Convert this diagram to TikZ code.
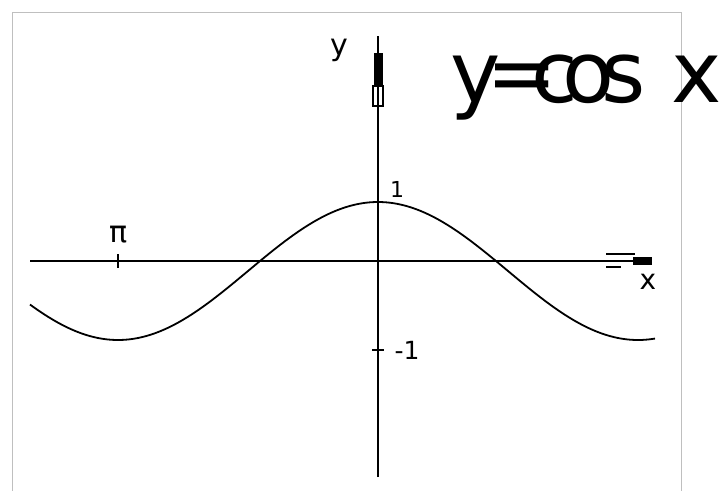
\documentclass[tikz,border=0pt]{standalone}
\usepackage{fontspec}
\setmainfont{DejaVu Sans}
\begin{document}
\begin{tikzpicture}[x=1pt,y=-1pt,
  axis/.style={line width=2.4pt,black},
  curve/.style={line width=1.8pt,black},
  lbl/.style={inner sep=0pt,font=\fontsize{22}{22}\selectfont},
  frame/.style={line width=1pt,draw=black!25}]
\useasboundingbox (0,0) rectangle (725,490);
\fill[white] (0,0) rectangle (725,490);
% frame
\draw[frame] (12,492) -- (12,12) -- (681,12) -- (681,492);
% axes
\coordinate (xl) at (30,261);
\coordinate (xr) at (652,261);
\coordinate (yt) at (378,36);
\coordinate (yb) at (378,477);
\draw[axis] (xl) -- (xr);
\draw[axis] (yb) -- (yt);
% y arrow decoration
\fill[black] (374,53) rectangle (383,85);
\draw[line width=1.8pt] (373,86) rectangle (383,106);
% x arrow decoration
\fill[black] (633,257) rectangle (652,265);
\draw[line width=2pt] (606,254) -- (635,254);
\draw[line width=2pt] (606,267) -- (621,267);
% ticks
\draw[axis] (118,254) -- (118,268);
\draw[axis] (372,350) -- (384,350);
% curve
\draw[curve] plot[domain=30:655,samples=200] (\x,{271-69*cos((\x-378)/260*180)});
% labels
\node[lbl,font=\fontsize{30}{30}\selectfont] (ylab) at (339,50) {y};
\node[lbl,font=\fontsize{28}{28}\selectfont] (xlab) at (648,282) {x};
\node[lbl,font=\fontsize{30}{30}\selectfont] (pilab) at (119,235) {π};
\node[lbl] (one) at (397,189) {1};
\node[lbl,font=\fontsize{25}{25}\selectfont] (mone) at (407,350) {-1};
\node[inner sep=0pt,anchor=base west,font=\fontsize{85}{85}\selectfont] (title) at (450,102)
  {y\kern-14pt=\kern-26pt c\kern-16pt o\kern-13pt s\kern 26pt x};
\end{tikzpicture}
\end{document}
